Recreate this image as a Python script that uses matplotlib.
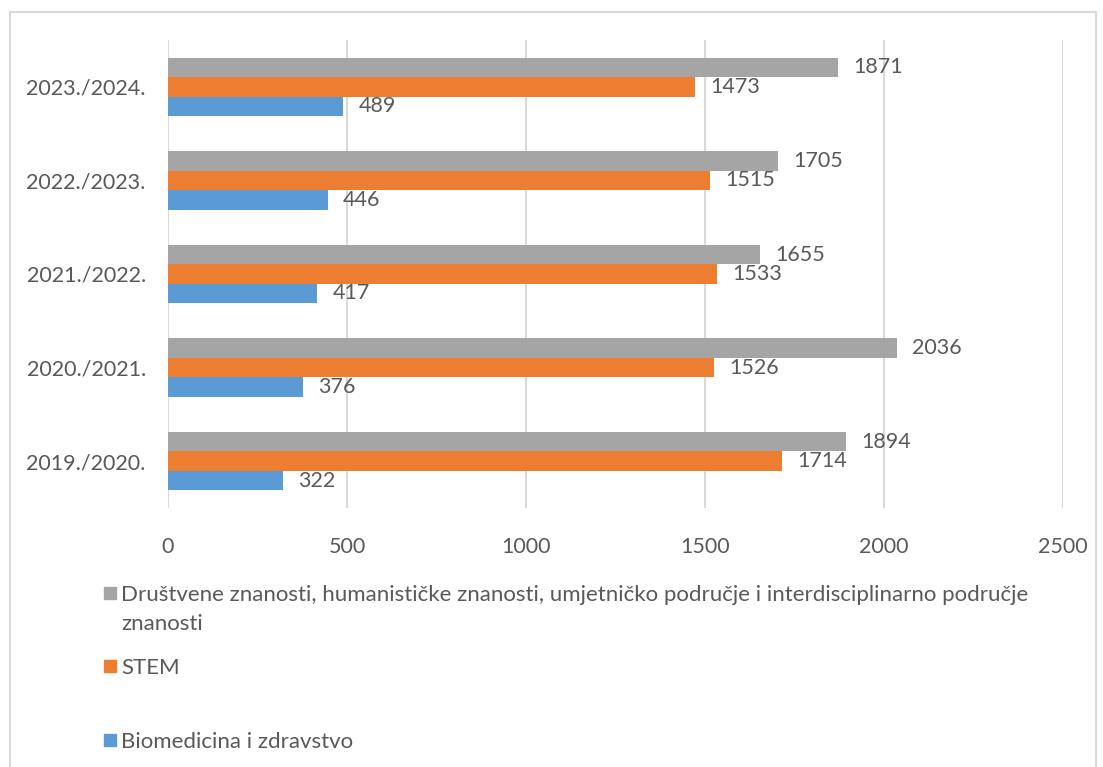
import matplotlib
matplotlib.use("Agg")
import matplotlib.pyplot as plt
from matplotlib.patches import Rectangle
import numpy as np

years = ["2019./2020.", "2020./2021.", "2021./2022.", "2022./2023.", "2023./2024."]
drustvene = [1894, 2036, 1655, 1705, 1871]
stem = [1714, 1526, 1533, 1515, 1473]
biomed = [322, 376, 417, 446, 489]
labels = ["Društvene znanosti, humanističke znanosti, umjetničko područje i interdisciplinarno područje\nznanosti",
          "STEM",
          "Biomedicina i zdravstvo"]
colors = ["#A5A5A5", "#ED7D31", "#5B9BD5"]
txt = "#595959"

plt.rcParams['font.family'] = ['Lato', 'DejaVu Sans']

fig = plt.figure(figsize=(11.03, 7.67), dpi=100)
ax = fig.add_axes([168/1103, 259/767, 895/1103, 468/767])

y = np.arange(len(years))
h = 0.208
series = [drustvene, stem, biomed]
for i, (vals, c) in enumerate(zip(series, colors)):
    pos = y + (1 - i) * h
    bars = ax.barh(pos, vals, height=h, color=c, zorder=3)
    ax.bar_label(bars, labels=[str(v) for v in vals], padding=11,
                 color=txt, fontsize=15.5)

ax.set_xlim(0, 2500)
ax.set_ylim(-0.5, 4.5)
ax.set_xticks([0, 500, 1000, 1500, 2000, 2500])
ax.set_yticks(y)
ax.set_yticklabels(years)
ax.tick_params(axis='both', length=0, labelsize=15.5, labelcolor=txt)
ax.tick_params(axis='y', pad=16)
ax.tick_params(axis='x', pad=21)
ax.grid(axis='x', color="#D9D9D9", linewidth=1.5, zorder=0)
for s in ax.spines.values():
    s.set_visible(False)

# outer border
fig.patches.append(Rectangle((10/1103, -0.01), 1086/1103, (767-12)/767 + 0.01,
                             transform=fig.transFigure, fill=False,
                             edgecolor="#D9D9D9", linewidth=1.5))

# legend (baseline of first line of each entry, px from top)
leg_base = [601, 674, 748]
for lab, c, lb in zip(labels, colors, leg_base):
    fig.patches.append(Rectangle((104/1103, 1 - (lb - 2)/767), 12/1103, 12/767,
                                 transform=fig.transFigure, color=c))
    for k, line in enumerate(lab.split("\n")):
        fig.text(121/1103, 1 - (lb + 29 * k)/767, line, color=txt,
                 fontsize=16, va='baseline', ha='left')

fig.savefig("out.png", dpi=100)
